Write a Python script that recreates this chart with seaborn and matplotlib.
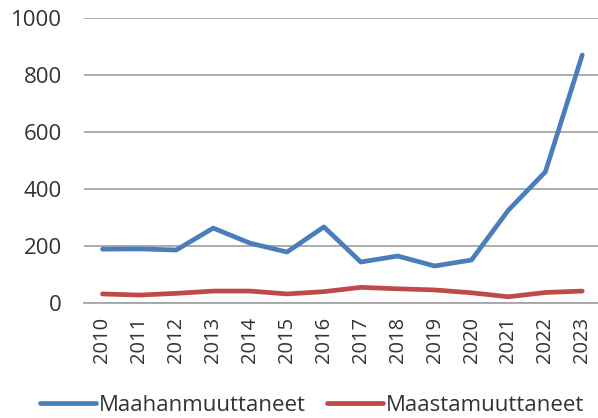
import matplotlib
matplotlib.use("Agg")
import matplotlib.pyplot as plt
import seaborn as sns
import pandas as pd
from matplotlib.lines import Line2D

years = [str(y) for y in range(2010, 2024)]
maahanmuuttaneet = [189, 190, 186, 263, 210, 179, 267, 144, 165, 130, 151, 326, 460, 870]
maastamuuttaneet = [32, 28, 34, 42, 42, 32, 40, 55, 50, 46, 36, 22, 37, 42]
series_names = ["Maahanmuuttaneet", "Maastamuuttaneet"]
colors = ["#4a7ebb", "#be4b48"]

df = pd.DataFrame({
    "year": years * 2,
    "value": maahanmuuttaneet + maastamuuttaneet,
    "series": [series_names[0]] * len(years) + [series_names[1]] * len(years),
})

sns.set_theme(style="white")
plt.rcParams["font.family"] = ["Open Sans", "DejaVu Sans"]

fig = plt.figure(figsize=(5.98, 4.18), dpi=100)
ax = fig.add_axes([0.1405, 0.275, 0.864, 0.682])

sns.lineplot(data=df, x="year", y="value", hue="series", palette=colors,
             linewidth=3.4, ax=ax, legend=False, sort=False)

ax.set_xlim(-0.5, len(years) - 0.5)
ax.set_ylim(0, 1000)
ax.set_yticks([0, 200, 400, 600, 800, 1000])
ax.yaxis.grid(True, color="#a6a6a6", linewidth=1.3)
ax.set_axisbelow(True)
for s in ["top", "right", "left"]:
    ax.spines[s].set_visible(False)
ax.spines["bottom"].set_color("#a6a6a6")
ax.spines["bottom"].set_linewidth(1.3)
ax.set_xlabel("")
ax.set_ylabel("")
ax.tick_params(axis="y", labelsize=16, colors="#333333", length=0, pad=16)
ax.tick_params(axis="x", labelsize=14.5, colors="#333333", length=0, pad=10, labelrotation=90)

handles = [Line2D([0], [0], color=c, linewidth=3.4) for c in colors]
fig.legend(handles, series_names, loc="center", bbox_to_anchor=(0.522, 0.031),
           ncol=2, frameon=False, fontsize=16, handlelength=2.5, handletextpad=0.15,
           columnspacing=0.95, labelcolor="#333333", borderaxespad=0, borderpad=0)

fig.savefig("out.png", dpi=100)
